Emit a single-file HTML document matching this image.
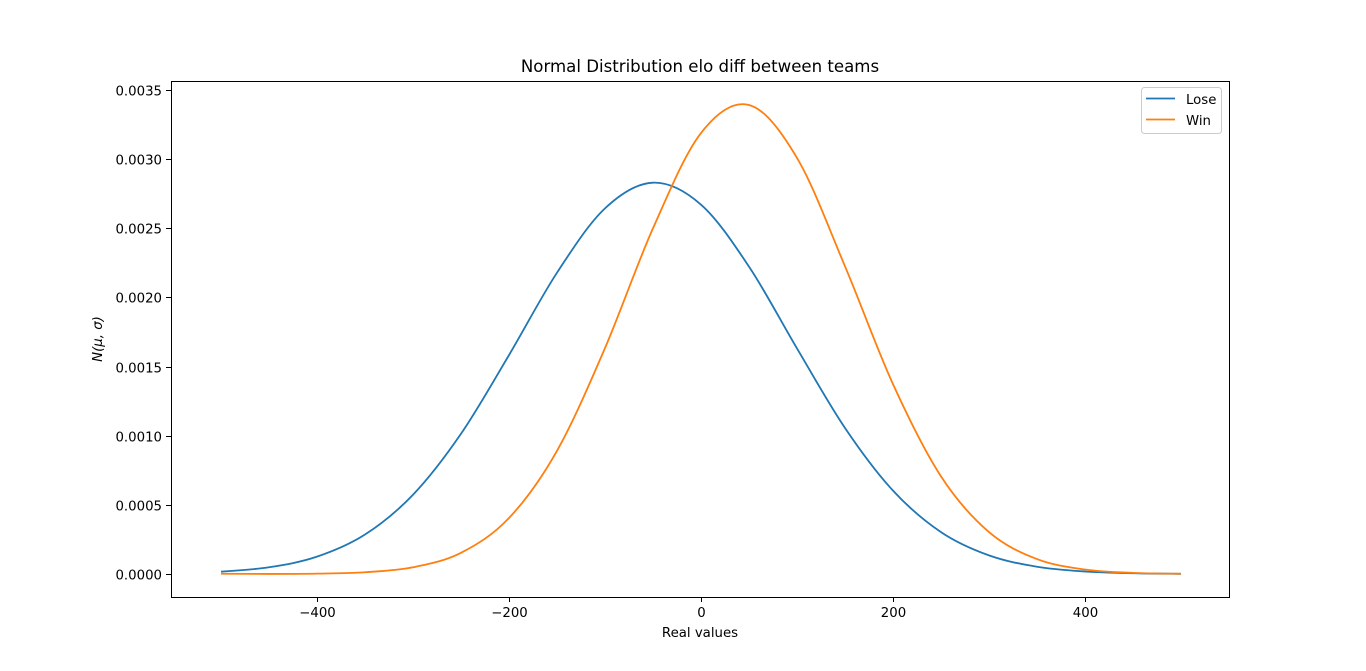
<!DOCTYPE html>
<html><head><meta charset="utf-8"><style>
html,body{margin:0;padding:0;background:#fff;}
svg{display:block;font-family:"DejaVu Sans","Liberation Sans",sans-serif;}
</style></head><body>
<svg id="chart" width="1366" height="671">
<rect width="1366" height="671" fill="#fff"/>
<text x="700" y="72" font-size="16.6" text-anchor="middle">Normal Distribution elo diff between teams</text>
<g id="grid"></g>
<path id="lose" fill="none" stroke="#1f77b4" stroke-width="1.8"/>
<path id="win" fill="none" stroke="#ff7f0e" stroke-width="1.8"/>
<rect x="171.5" y="81.5" width="1058" height="516" fill="none" stroke="#000" stroke-width="1"/>
<text x="700" y="637" font-size="13.3" text-anchor="middle">Real values</text>
<text transform="translate(102,339) rotate(-90)" font-size="13.3" text-anchor="middle" font-style="italic">N(μ, σ)</text>
<g>
<rect x="1141.5" y="87.5" width="80" height="46" rx="3" fill="#fff" stroke="#ccc"/>
<line x1="1146" y1="98.5" x2="1175" y2="98.5" stroke="#1f77b4" stroke-width="1.8"/>
<text x="1186" y="104" font-size="13.3">Lose</text>
<line x1="1146" y1="119.5" x2="1175" y2="119.5" stroke="#ff7f0e" stroke-width="1.8"/>
<text x="1186" y="125" font-size="13.3">Win</text>
</g>
</svg>
<script>
const xValues=[-500,-450,-400,-350,-300,-250,-200,-150,-100,-50,0,50,100,150,200,250,300,350,400,450,500];
const loseValues=[0.0000166,0.0000486,0.0001255,0.0002855,0.000573,0.001014,0.001583,0.002179,0.002644,0.00283,0.002671,0.002223,0.001631,0.001056,0.000603,0.000303,0.0001346,0.0000527,0.0000182,0.0000055,0.0000015];
const winValues=[0.0000017,0.0000005,0.0000028,0.0000128,0.0000485,0.0001534,0.000405,0.000891,0.001634,0.0025,0.003189,0.003392,0.003009,0.002225,0.001373,0.000706,0.000303,0.000108,0.0000323,0.000008,0.0000017];
const xTicks=[-400,-200,0,200,400];
const xTickLabels=["\u2212400","\u2212200","0","200","400"];
const yTicks=[0,0.0005,0.001,0.0015,0.002,0.0025,0.003,0.0035];
const yTickLabels=["0.0000","0.0005","0.0010","0.0015","0.0020","0.0025","0.0030","0.0035"];
const NS="http://www.w3.org/2000/svg";
function xs(v){return 701+v*0.96;}
function ys(v){return 574-v/0.0005*69.14;}
function path(vals){
  const p=xValues.map((x,i)=>[xs(x),ys(vals[i])]);
  let d="M"+p[0][0]+","+p[0][1];
  for(let i=0;i<p.length-1;i++){
    const p0=p[Math.max(0,i-1)],p1=p[i],p2=p[i+1],p3=p[Math.min(p.length-1,i+2)];
    const c1=[p1[0]+(p2[0]-p0[0])/6,p1[1]+(p2[1]-p0[1])/6];
    const c2=[p2[0]-(p3[0]-p1[0])/6,p2[1]-(p3[1]-p1[1])/6];
    d+=" C"+c1+" "+c2+" "+p2;
  }
  return d;
}
document.getElementById('lose').setAttribute('d',path(loseValues));
document.getElementById('win').setAttribute('d',path(winValues));
const g=document.getElementById('grid');
xTicks.forEach((t,i)=>{
  const x=Math.round(xs(t))+0.5;
  const l=document.createElementNS(NS,'line');
  l.setAttribute('x1',x);l.setAttribute('x2',x);l.setAttribute('y1',597);l.setAttribute('y2',602);l.setAttribute('stroke','#000');
  
  
  g.appendChild(l);
  const tx=document.createElementNS(NS,'text');
  tx.setAttribute('x',x);tx.setAttribute('y',617);tx.setAttribute('font-size','13.3');tx.setAttribute('text-anchor','middle');
  tx.textContent=xTickLabels[i];
  
  
  g.appendChild(tx);
});
yTicks.forEach((t,i)=>{
  const y=Math.round(ys(t))+0.5;
  const l=document.createElementNS(NS,'line');
  l.setAttribute('x1',166);l.setAttribute('x2',171);l.setAttribute('y1',y);l.setAttribute('y2',y);l.setAttribute('stroke','#000');
  
  
  g.appendChild(l);
  const tx=document.createElementNS(NS,'text');
  tx.setAttribute('x',162);tx.setAttribute('y',y+5);tx.setAttribute('font-size','13.3');tx.setAttribute('text-anchor','end');
  tx.textContent=yTickLabels[i];
  
  
  g.appendChild(tx);
});
</script>
</body></html>
